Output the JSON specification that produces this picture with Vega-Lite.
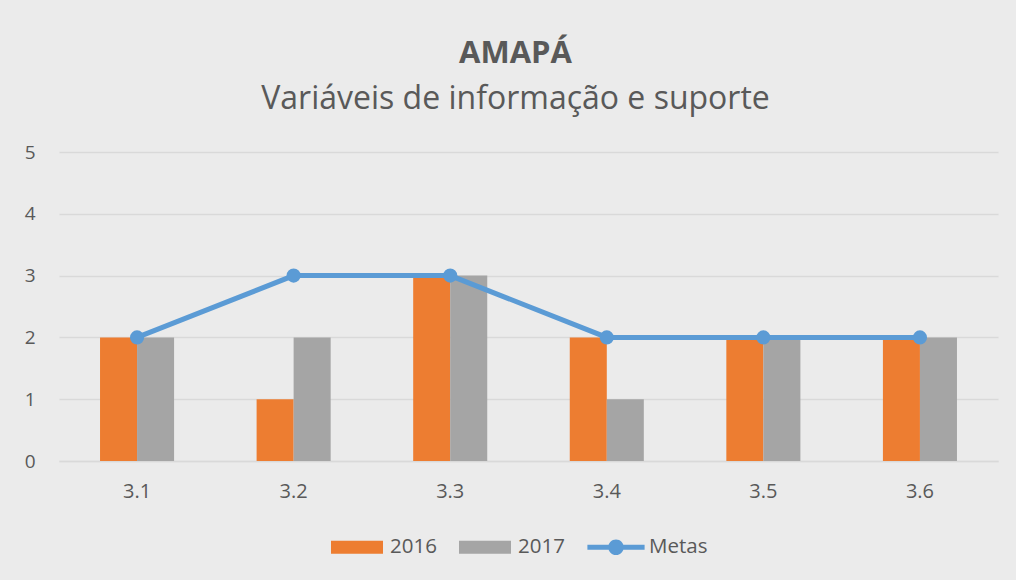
{
  "$schema": "https://vega.github.io/schema/vega-lite/v6.json",
  "autosize": {"type": "none"},
  "width": 939,
  "height": 309,
  "padding": {"left": 59, "top": 152, "right": 18, "bottom": 119},
  "background": "#EBEBEB",
  "title": {
    "text": "AMAPÁ",
    "subtitle": "Variáveis de informação e suporte",
    "anchor": "middle",
    "frame": "group",
    "dx": -13,
    "offset": 27,
    "font": "Open Sans",
    "fontSize": 31,
    "fontWeight": "bold",
    "color": "#595959",
    "subtitleFont": "Open Sans",
    "subtitleFontSize": 32,
    "subtitleColor": "#595959",
    "subtitlePadding": 14
  },
  "datasets": {
    "barras": [
      {"cat": "3.1", "serie": "2016", "valor": 2},
      {"cat": "3.1", "serie": "2017", "valor": 2},
      {"cat": "3.2", "serie": "2016", "valor": 1},
      {"cat": "3.2", "serie": "2017", "valor": 2},
      {"cat": "3.3", "serie": "2016", "valor": 3},
      {"cat": "3.3", "serie": "2017", "valor": 3},
      {"cat": "3.4", "serie": "2016", "valor": 2},
      {"cat": "3.4", "serie": "2017", "valor": 1},
      {"cat": "3.5", "serie": "2016", "valor": 2},
      {"cat": "3.5", "serie": "2017", "valor": 2},
      {"cat": "3.6", "serie": "2016", "valor": 2},
      {"cat": "3.6", "serie": "2017", "valor": 2}
    ],
    "metas": [
      {"cat": "3.1", "meta": 2},
      {"cat": "3.2", "meta": 3},
      {"cat": "3.3", "meta": 3},
      {"cat": "3.4", "meta": 2},
      {"cat": "3.5", "meta": 2},
      {"cat": "3.6", "meta": 2}
    ]
  },
  "encoding": {
    "x": {
      "field": "cat",
      "type": "nominal",
      "sort": null,
      "scale": {"paddingInner": 0.527, "paddingOuter": 0.262},
      "axis": {
        "title": null,
        "labelAngle": 0,
        "labelFont": "Open Sans",
        "labelFontSize": 20,
        "labelColor": "#595959",
        "labelPadding": 20,
        "ticks": false,
        "domain": true,
        "domainColor": "#D9D9D9",
        "domainWidth": 1.5,
        "grid": false
      }
    }
  },
  "layer": [
    {
      "data": {"name": "barras"},
      "mark": {"type": "bar"},
      "encoding": {
        "xOffset": {"field": "serie", "type": "nominal", "scale": {"paddingInner": 0, "paddingOuter": 0}},
        "y": {
          "field": "valor",
          "type": "quantitative",
          "scale": {"domain": [0, 5], "nice": false},
          "axis": {
            "title": null,
            "values": [0, 1, 2, 3, 4, 5],
            "format": "d",
            "labelFont": "Open Sans",
            "labelFontSize": 19,
            "labelColor": "#595959",
            "labelPadding": 24,
            "ticks": false,
            "domain": false,
            "grid": true,
            "gridColor": "#D9D9D9",
            "gridWidth": 1.5
          }
        },
        "color": {
          "field": "serie",
          "type": "nominal",
          "scale": {"domain": ["2016", "2017", "Metas"], "range": ["#ED7D31", "#A5A5A5", "#5B9BD5"]},
          "legend": {
            "orient": "none",
            "legendX": 285,
            "legendY": 382,
            "direction": "horizontal",
            "title": null,
            "labelFont": "Open Sans",
            "labelFontSize": 20.5,
            "labelColor": "#595959",
            "symbolType": "M-2,-0.5H2V0.5H-2Z",
            "symbolSize": 676,
            "symbolStrokeWidth": 0,
            "symbolOpacity": 1,
            "columnPadding": 22,
            "labelOffset": 20,
            "encode": {
              "symbols": {
                "update": {
                  "shape": {"signal": "datum.value == 'Metas' ? 'M-2.2,-0.19H2.2V0.19H-2.2Z M-0.6,0A0.6,0.6 0 1,1 0.6,0A0.6,0.6 0 1,1 -0.6,0Z' : 'M-2,-0.5H2V0.5H-2Z'"}
                }
              }
            }
          }
        }
      }
    },
    {
      "data": {"name": "metas"},
      "mark": {"type": "line", "color": "#5B9BD5", "strokeWidth": 5},
      "encoding": {
        "y": {"field": "meta", "type": "quantitative"}
      }
    },
    {
      "data": {"name": "metas"},
      "mark": {"type": "point", "filled": true, "opacity": 1, "color": "#5B9BD5", "size": 200},
      "encoding": {
        "y": {"field": "meta", "type": "quantitative"}
      }
    }
  ],
  "config": {
    "view": {"stroke": null}
  }
}
